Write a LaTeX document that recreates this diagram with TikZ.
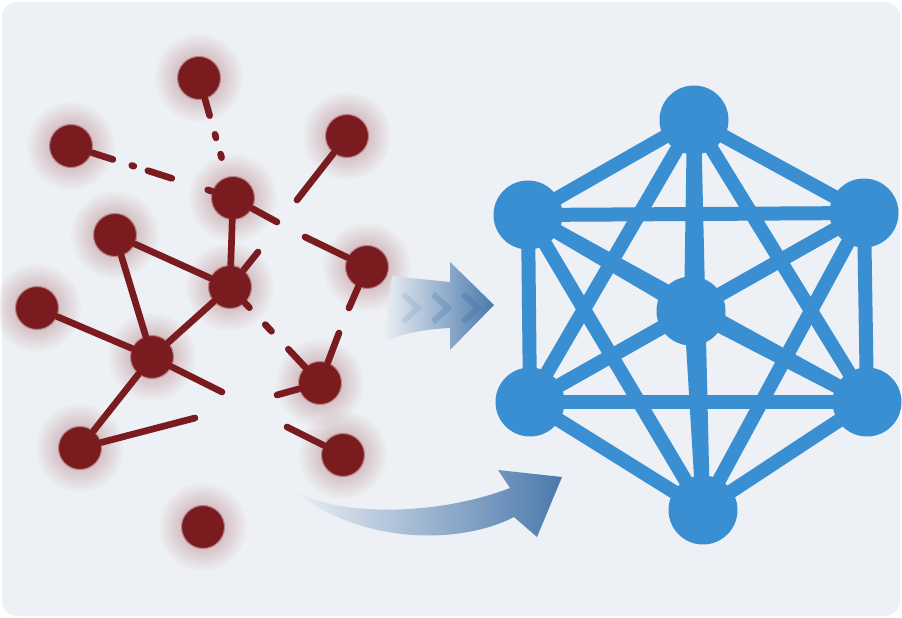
\documentclass[tikz,border=0pt]{standalone}
\definecolor{bgcol}{HTML}{EDF0F4}
\definecolor{dred}{HTML}{7A1B20}
\definecolor{glowred}{HTML}{B04A4E}
\definecolor{netblue}{HTML}{3A8FD2}
\definecolor{arrblue}{HTML}{4A79AC}
\begin{document}
\begin{tikzpicture}[x=0.02cm,y=-0.02cm,
    rnode/.style={circle,fill=dred,draw=dred!55!white,line width=0.6pt,minimum size=0.86cm,inner sep=0},
    bnode/.style={circle,fill=netblue,minimum size=1.38cm,inner sep=0},
    redge/.style={dred,line width=3.8pt,line cap=round},
    bedge/.style={netblue,line width=0.28cm,shorten <=-3pt,shorten >=-3pt},
    glow/.style={glowred,opacity=0.022},
    chev/.style={arrblue,line width=0.12cm}]
        \useasboundingbox (0,0) rectangle (902,618);
        \fill[white] (0,0) rectangle (902,618);
        \fill[bgcol,rounded corners=0.3cm] (2,2) rectangle (900,616);

        \foreach \n/\x/\y in {a/199/78,b/71/146,c/347/136,d/233/198,e/115/235,f/230/287,g/367/267,
            h/37/308,i/152/357,j/320/383,k/80/448,l/343/455,m/203/527}{
            \foreach \r in {22,24,...,44} \fill[glow] (\x,\y) circle (\r);
            \node[rnode] (\n) at (\x,\y) {};
        }

        \coordinate (c1) at (297,200); \coordinate (d1) at (277,222);
        \coordinate (f1) at (258,252); \coordinate (g1) at (305,237);
        \coordinate (g2) at (349,308); \coordinate (i1) at (222,392);
        \coordinate (j1) at (339,333); \coordinate (j2) at (277,395);
        \coordinate (k1) at (195,418); \coordinate (l1) at (287,427);

        \draw[redge] (d) -- (f) (e) -- (f) (f) -- (i) (e) -- (i) (h) -- (i) (i) -- (k);
        \draw[redge] (c) -- (c1) (d) -- (d1) (f) -- (f1) (g) -- (g1) (g) -- (g2)
            (i) -- (i1) (j) -- (j1) (j) -- (j2) (k) -- (k1) (l) -- (l1);
        \draw[redge,dash pattern=on 9.7pt off 11.1pt on 2.1pt off 9.6pt on 2.1pt off 80pt] (a) -- (d);
        \draw[redge,dash pattern=on 12.5pt off 11.3pt on 1.2pt off 8.4pt on 14.3pt off 21.5pt on 40pt] (b) -- (d);
        \draw[redge,dash pattern=on 3.6pt off 13.2pt on 5.2pt off 14pt on 40pt] (f) -- (j);

        \shade[left color=bgcol,right color=arrblue] (383,342) .. controls (405,332) and (430,329) .. (450,328)
            -- (450,350) -- (494,305) -- (450,262) -- (450,282) .. controls (430,280) and (410,278) .. (392,276) -- cycle;
        \foreach \x/\o in {418/0.15,448/0.3,478/0.45}
            \draw[chev,opacity=\o] (\x-15,294) -- (\x,308) -- (\x-15,322);
        \shade[left color=bgcol,right color=arrblue] (293,490) .. controls (340,518) and (440,515) .. (510,488)
            -- (498,470) -- (562,477) -- (537,537) -- (514,517) .. controls (460,545) and (360,545) .. (293,490) -- cycle;

        \foreach \n/\x/\y in {bt/694/120,bul/528/215,bur/864/213,bll/530/402,blr/867/402,bb/703/510,bc/691/311}
            \node[bnode] (\n) at (\x,\y) {};
        \foreach \s [count=\i] in {bt,bul,bur,bll,blr,bb,bc}{
            \foreach \t [count=\j] in {bt,bul,bur,bll,blr,bb,bc}{
                \ifnum\j>\i \draw[bedge] (\s) -- (\t); \fi
            }
        }
    \end{tikzpicture}
\end{document}
